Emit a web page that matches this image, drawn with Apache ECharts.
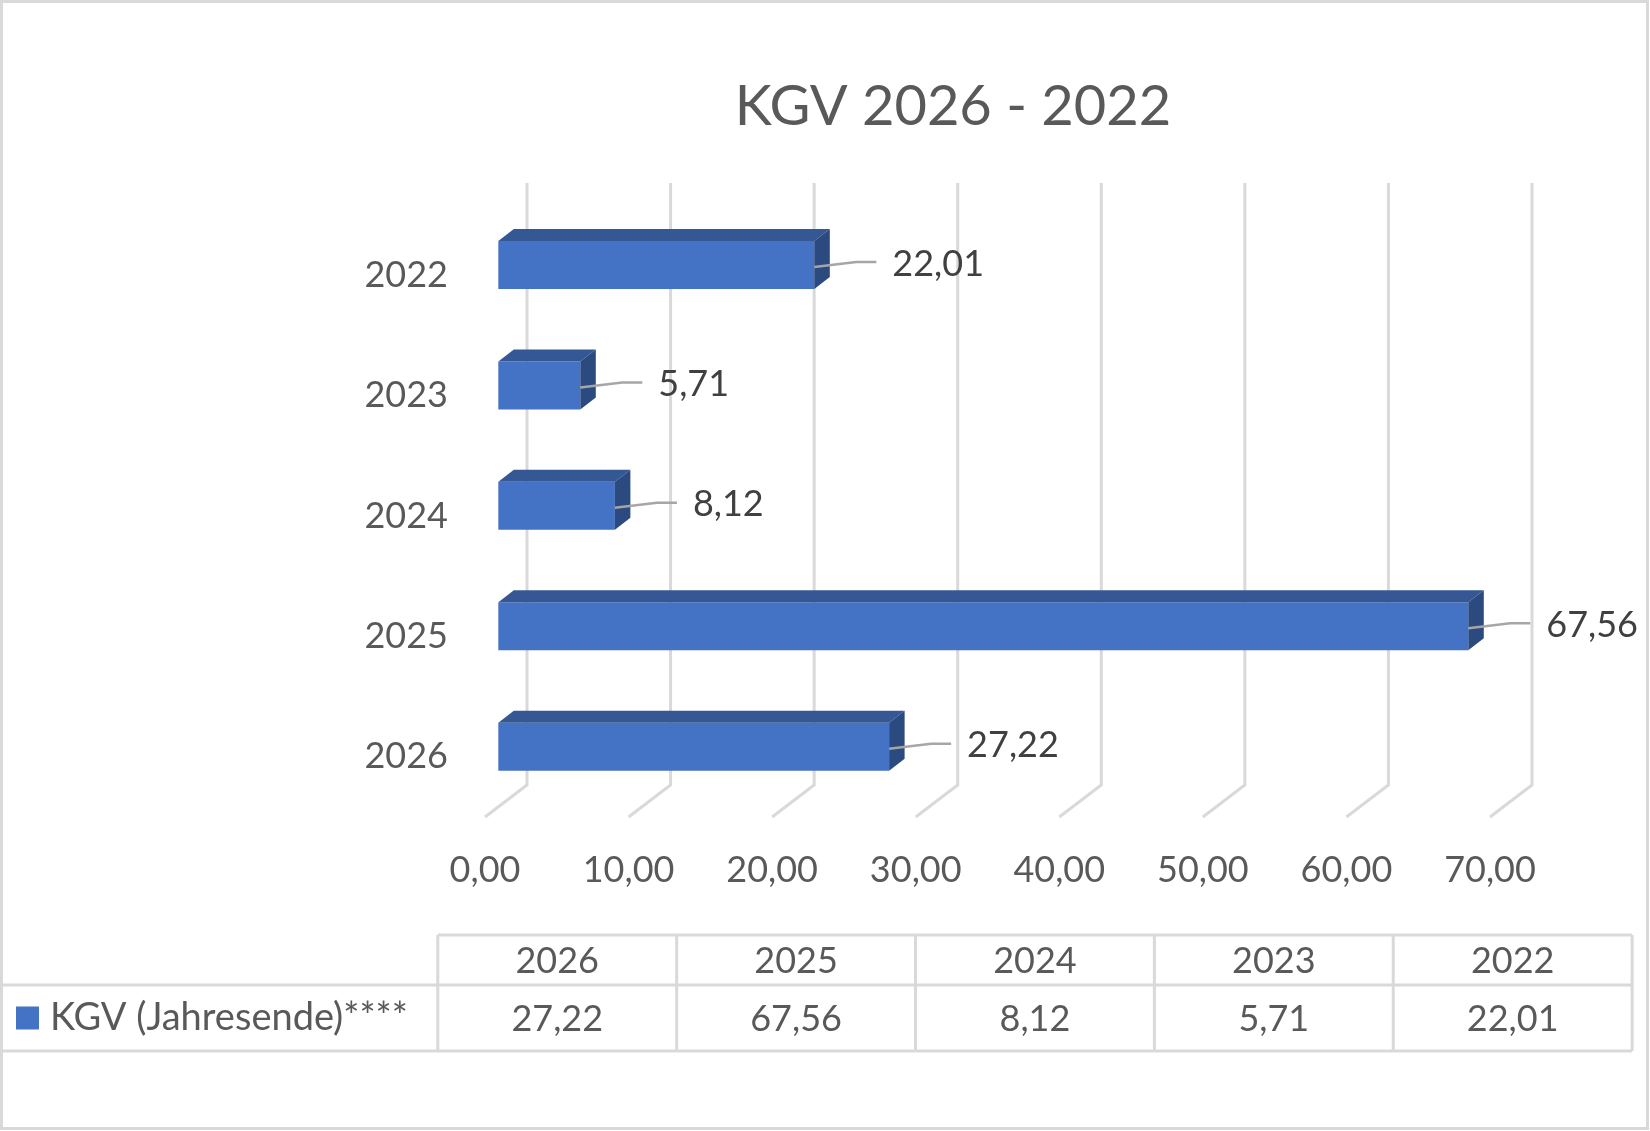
<!DOCTYPE html>
<html><head><meta charset="utf-8">
<script src="https://cdn.jsdelivr.net/npm/echarts@6/dist/echarts.min.js"></script>
<style>html,body{margin:0;padding:0;background:#fff}#c{width:1650px;height:1131px}</style>
</head><body><div id="c"></div>
<script>
// ---- data ----
const titleText = 'KGV 2026 - 2022';
const seriesName = 'KGV (Jahresende)****';
const categories = ['2026', '2025', '2024', '2023', '2022'];
const values = [27.22, 67.56, 8.12, 5.71, 22.01];
const xTicks = [0, 10, 20, 30, 40, 50, 60, 70];

// ---- style ----
const fmt = v => Number(v).toFixed(2).replace('.', ',');
const FF = 'Lato, "Open Sans", sans-serif';
const GRID_C = '#d9d9d9';
const TXT = '#595959';
const DEPTH_X = 42, DEPTH_Y = 32;
const BAR_OFF = 0.317;
const BAR_DX = 15.5, BAR_DY = 12, BAR_H = 48;
const LABEL_GAP = 78;

function floorRender(params, api) {
  const cs = params.coordSys;
  const x = api.coord([api.value(0), 0])[0];
  const top = cs.y, bot = cs.y + cs.height;
  return {
    type: 'polyline',
    shape: { points: [[x + DEPTH_X, top - DEPTH_Y], [x + DEPTH_X, bot - DEPTH_Y], [x, bot]] },
    style: { stroke: GRID_C, lineWidth: 3, fill: null },
    silent: true
  };
}

function barRender(params, api) {
  const v = api.value(0), c = api.value(1);
  const p0 = api.coord([0, c]), p1 = api.coord([v, c]);
  const ox = DEPTH_X * BAR_OFF, oy = -DEPTH_Y * BAR_OFF;
  const L = p0[0] + ox, R = p1[0] + ox, cy = p0[1] + oy;
  const T = cy - BAR_H / 2, B = cy + BAR_H / 2;
  const lx = R + LABEL_GAP;
  return {
    type: 'group',
    children: [
      { type: 'rect', shape: { x: L, y: T, width: R - L, height: BAR_H }, style: { fill: '#4472c4' } },
      { type: 'polygon', shape: { points: [[L, T], [R, T], [R + BAR_DX, T - BAR_DY], [L + BAR_DX, T - BAR_DY]] }, style: { fill: '#355894' } },
      { type: 'polygon', shape: { points: [[R, T], [R + BAR_DX, T - BAR_DY], [R + BAR_DX, B - BAR_DY], [R, B]] }, style: { fill: '#2b4a80' } },
      { type: 'polyline', shape: { points: [[R, cy + 2], [lx - 36, cy - 3], [lx - 16, cy - 3]] }, style: { stroke: '#a6a6a6', lineWidth: 2.5, fill: null } },
      { type: 'text', style: { text: fmt(v), x: lx, y: cy - 1, fill: '#404040', fontSize: 36, fontFamily: FF, align: 'left', verticalAlign: 'middle' } }
    ]
  };
}

function tableRender(params, api) {
  const i = api.value(0), val = api.value(1);
  const cs = params.coordSys;
  const cx = api.coord([i, 0])[0];
  const w = api.size([1, 0])[0];
  const x0 = cx - w / 2, x1 = cx + w / 2;
  const top = cs.y, mid = cs.y + 50, bot = cs.y + cs.height;
  const left = i === 0 ? 0 : x0;
  const ls = { stroke: GRID_C, lineWidth: 3 };
  const ch = [
    { type: 'line', shape: { x1: x0, y1: top, x2: x1, y2: top }, style: ls },
    { type: 'line', shape: { x1: left, y1: mid, x2: x1, y2: mid }, style: ls },
    { type: 'line', shape: { x1: left, y1: bot, x2: x1, y2: bot }, style: ls },
    { type: 'line', shape: { x1: x0, y1: top, x2: x0, y2: bot }, style: ls },
    { type: 'text', style: { text: categories[i], x: cx, y: (top + mid) / 2 + 1, fill: TXT, fontSize: 36, fontFamily: FF, align: 'center', verticalAlign: 'middle' } },
    { type: 'text', style: { text: fmt(val), x: cx, y: (mid + bot) / 2 + 1, fill: TXT, fontSize: 36, fontFamily: FF, align: 'center', verticalAlign: 'middle' } }
  ];
  if (i === categories.length - 1) ch.push({ type: 'line', shape: { x1: x1, y1: top, x2: x1, y2: bot }, style: ls });
  return { type: 'group', children: ch };
}

const chart = echarts.init(document.getElementById('c'), null, { renderer: 'canvas' });
chart.setOption({
  animation: false,
  backgroundColor: '#ffffff',
  graphic: [
    { type: 'rect', shape: { x: 1.5, y: 1.5, width: 1646, height: 1127 }, style: { fill: null, stroke: GRID_C, lineWidth: 3 }, silent: true },
    { type: 'text', x: 953, y: 107, style: { text: titleText, fill: TXT, fontSize: 56, fontFamily: FF, align: 'center', textAlign: 'center', verticalAlign: 'middle', textVerticalAlign: 'middle' } }
  ],
  legend: {
    left: 16, top: 999, padding: 0, itemWidth: 23, itemHeight: 23, selectedMode: false,
    data: [{ name: seriesName, icon: 'rect', itemStyle: { color: '#4472c4' } }],
    textStyle: { fontSize: 38, color: TXT, fontFamily: FF, padding: [0, 0, 0, 6] }
  },
  grid: [
    { left: 485, top: 215, width: 1005, height: 602 },
    { left: 437.8, top: 935, width: 1194.3, height: 116 }
  ],
  xAxis: [
    { gridIndex: 0, type: 'value', min: 0, max: 70, interval: 10,
      axisLabel: { fontSize: 36, color: TXT, fontFamily: FF, margin: 35, formatter: v => fmt(v) },
      splitLine: { show: false }, axisLine: { show: false }, axisTick: { show: false } },
    { gridIndex: 1, type: 'category', data: categories, show: false }
  ],
  yAxis: [
    { gridIndex: 0, type: 'category', data: categories,
      axisLabel: { fontSize: 36, color: TXT, fontFamily: FF, margin: 37, padding: [10, 0, 0, 0] },
      axisLine: { show: false }, axisTick: { show: false }, splitLine: { show: false } },
    { gridIndex: 1, type: 'value', min: 0, max: 1, show: false }
  ],
  series: [
    { type: 'custom', name: 'floor', xAxisIndex: 0, yAxisIndex: 0, encode: { x: 0, y: 1 },
      data: xTicks.map(v => [v, 0]), renderItem: floorRender, silent: true, z: 1 },
    { type: 'custom', name: seriesName, xAxisIndex: 0, yAxisIndex: 0, encode: { x: 0, y: 1 },
      itemStyle: { color: '#4472c4' },
      data: values.map((v, i) => [v, i]), renderItem: barRender, z: 2 },
    { type: 'custom', name: 'table', xAxisIndex: 1, yAxisIndex: 1, encode: { x: 0, y: 1 },
      data: categories.map((c, i) => [i, values[i]]), renderItem: tableRender, silent: true, z: 2 }
  ]
});
</script>
</body></html>
